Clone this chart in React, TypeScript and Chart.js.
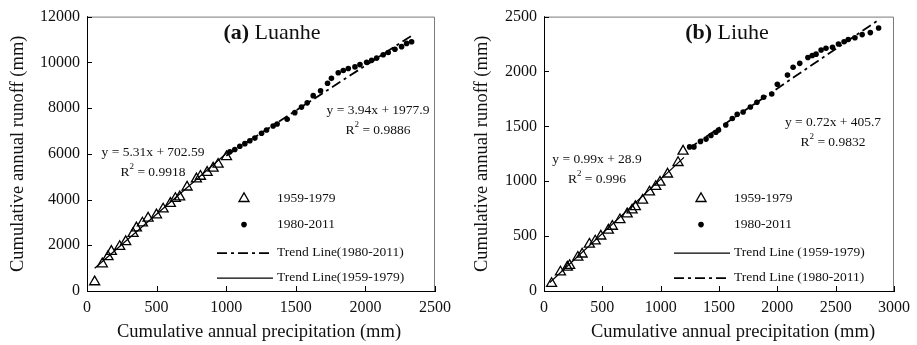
import React, { useEffect, useRef } from "react";
import { Chart, registerables } from "chart.js";

Chart.register(...registerables);

const FONT = "'Liberation Serif', 'Times New Roman', serif";
const INK = "#111111";

// ---------- (a) Luanhe ----------
const luanheEarlyX = [55, 110, 151, 175, 235, 278, 331, 355, 398, 439, 499, 547, 599, 635, 666, 719, 786, 815, 863, 906, 942, 1002];
const luanheEarlyY = [400, 1186, 1500, 1729, 1943, 2157, 2514, 2757, 2971, 3186, 3329, 3586, 3829, 4043, 4114, 4543, 4900, 5014, 5186, 5371, 5543, 5871];
const luanheLateX = [1026, 1062, 1098, 1134, 1170, 1206, 1254, 1290, 1337, 1366, 1438, 1493, 1541, 1582, 1625, 1678, 1728, 1756, 1805, 1841, 1877, 1925, 1961, 2009, 2045, 2081, 2128, 2164, 2212, 2260, 2296, 2332];
const luanheLateY = [6086, 6186, 6329, 6443, 6571, 6686, 6900, 7043, 7214, 7300, 7514, 7800, 8043, 8229, 8543, 8757, 9086, 9300, 9543, 9643, 9729, 9800, 9900, 10000, 10086, 10186, 10329, 10429, 10571, 10686, 10829, 10900];
const luanheTrendEarlyX = [55, 1010];
const luanheTrendEarlyY = [995, 6066];
const luanheTrendLateX = [1000, 2330];
const luanheTrendLateY = [5918, 11158];
const luanheXTicks = [0, 500, 1000, 1500, 2000, 2500];
const luanheYTicks = [0, 2000, 4000, 6000, 8000, 10000, 12000];

// ---------- (b) Liuhe ----------
const liuheEarlyX = [65, 141, 200, 220, 290, 327, 389, 439, 487, 552, 586, 651, 713, 755, 783, 845, 904, 958, 994, 1059, 1149, 1192];
const liuheEarlyY = [68, 173, 217, 232, 307, 336, 426, 455, 500, 554, 589, 649, 702, 738, 768, 827, 902, 952, 991, 1065, 1170, 1274];
const liuheLateX = [1248, 1285, 1341, 1389, 1431, 1473, 1496, 1558, 1614, 1656, 1707, 1769, 1825, 1882, 1952, 2000, 2087, 2135, 2192, 2262, 2299, 2332, 2375, 2417, 2473, 2524, 2572, 2608, 2665, 2727, 2797, 2868];
const liuheLateY = [1313, 1313, 1363, 1384, 1417, 1446, 1467, 1512, 1571, 1610, 1631, 1676, 1720, 1765, 1795, 1884, 1967, 2039, 2074, 2128, 2146, 2158, 2196, 2211, 2220, 2250, 2271, 2292, 2307, 2336, 2354, 2396];
const liuheTrendEarlyX = [50, 1200];
const liuheTrendEarlyY = [78, 1217];
const liuheTrendLateX = [1240, 2880];
const liuheTrendLateY = [1298, 2479];
const liuheXTicks = [0, 500, 1000, 1500, 2000, 2500, 3000];
const liuheYTicks = [0, 500, 1000, 1500, 2000, 2500];

const DASH_DOT = [10, 4, 3, 4];

type Eq = { eq: string; r2: string; cx: number; cy: number };
type PanelProps = {
  left: number;
  width: number;
  letter: string;
  name: string;
  titleCx: number;
  earlyX: number[];
  earlyY: number[];
  lateX: number[];
  lateY: number[];
  trendEarlyX: number[];
  trendEarlyY: number[];
  trendLateX: number[];
  trendLateY: number[];
  xTicks: number[];
  yTicks: number[];
  yWidth: number;
  padRight: number;
  eqs: Eq[];
  legendOrder: string[];
  legendLabels: Record<string, string>;
  yTitleX: number;
  xTitleCx: number;
};

function zip(xs: number[], ys: number[]) {
  return xs.map((x, i) => ({ x, y: ys[i] }));
}

function Panel(p: PanelProps) {
  const ref = useRef<HTMLCanvasElement>(null);
  useEffect(() => {
    const canvas = ref.current;
    if (!canvas) return;

    const overlay = {
      id: "overlay",
      afterDraw(chart: any) {
        const ctx = chart.ctx as CanvasRenderingContext2D;
        const a = chart.chartArea;
        const xs = chart.scales.x;
        const ys = chart.scales.y;
        ctx.save();
        // gray box top/right
        ctx.strokeStyle = "#7a7a7a";
        ctx.lineWidth = 1;
        ctx.beginPath();
        ctx.moveTo(a.left, a.top + 0.5);
        ctx.lineTo(a.right - 0.5, a.top + 0.5);
        ctx.lineTo(a.right - 0.5, a.bottom);
        ctx.stroke();
        // inner ticks
        ctx.strokeStyle = "#000";
        ctx.beginPath();
        for (const v of p.xTicks) {
          const px = Math.round(xs.getPixelForValue(v)) + 0.5;
          ctx.moveTo(px, a.bottom);
          ctx.lineTo(px, a.bottom - 5);
        }
        for (const v of p.yTicks) {
          const py = Math.round(ys.getPixelForValue(v)) + 0.5;
          ctx.moveTo(a.left, py);
          ctx.lineTo(a.left + 5, py);
        }
        ctx.stroke();

        ctx.fillStyle = INK;
        ctx.textBaseline = "middle";
        // panel title
        ctx.font = `bold 22px ${FONT}`;
        const t1 = `(${p.letter})`;
        const w1 = ctx.measureText(t1).width;
        ctx.font = `22px ${FONT}`;
        const t2 = ` ${p.name}`;
        const w2 = ctx.measureText(t2).width;
        const tx = a.left + p.titleCx - (w1 + w2) / 2;
        const ty = a.top + 17;
        ctx.textAlign = "left";
        ctx.font = `bold 22px ${FONT}`;
        ctx.fillText(t1, tx, ty);
        ctx.font = `22px ${FONT}`;
        ctx.fillText(t2, tx + w1, ty);

        // equations
        for (const e of p.eqs) {
          ctx.font = `13.5px ${FONT}`;
          ctx.textAlign = "center";
          ctx.fillText(e.eq, a.left + e.cx, a.top + e.cy);
          const pre = "R";
          const post = " = " + e.r2;
          const wPre = ctx.measureText(pre).width;
          const wPost = ctx.measureText(post).width;
          ctx.font = `9px ${FONT}`;
          const wSup = ctx.measureText("2").width;
          const total = wPre + wSup + wPost;
          const x0 = a.left + e.cx - total / 2;
          const y0 = a.top + e.cy + 20;
          ctx.textAlign = "left";
          ctx.font = `13.5px ${FONT}`;
          ctx.fillText(pre, x0, y0);
          ctx.font = `9px ${FONT}`;
          ctx.fillText("2", x0 + wPre, y0 - 6);
          ctx.font = `13.5px ${FONT}`;
          ctx.fillText(post, x0 + wPre + wSup, y0);
        }

        // legend
        const rows = [182, 208, 236, 261];
        const markX = a.left + 157;
        const lineX0 = a.left + 130;
        const lineX1 = a.left + 186;
        const textX = a.left + 190;
        p.legendOrder.forEach((key, i) => {
          const y = a.top + rows[i];
          ctx.strokeStyle = "#000";
          ctx.fillStyle = "#000";
          if (key === "tri") {
            const r = 5.8;
            ctx.lineWidth = 1.3;
            ctx.setLineDash([]);
            ctx.beginPath();
            ctx.moveTo(markX, y - r);
            ctx.lineTo(markX + 0.866 * r, y + 0.5 * r);
            ctx.lineTo(markX - 0.866 * r, y + 0.5 * r);
            ctx.closePath();
            ctx.stroke();
          } else if (key === "dot") {
            ctx.beginPath();
            ctx.arc(markX, y, 2.8, 0, Math.PI * 2);
            ctx.fill();
          } else {
            ctx.lineWidth = key === "late" ? 1.8 : 1.2;
            ctx.setLineDash(key === "late" ? DASH_DOT : []);
            ctx.beginPath();
            ctx.moveTo(lineX0, y + 0.5);
            ctx.lineTo(lineX1, y + 0.5);
            ctx.stroke();
            ctx.setLineDash([]);
          }
          ctx.fillStyle = INK;
          ctx.font = `13.5px ${FONT}`;
          ctx.textAlign = "left";
          ctx.fillText(p.legendLabels[key], textX, y);
        });

        // axis titles
        ctx.textAlign = "center";
        ctx.fillStyle = INK;
        ctx.font = `18.5px ${FONT}`;
        ctx.fillText("Cumulative annual precipitation (mm)", p.xTitleCx, 332);
        ctx.save();
        ctx.translate(p.yTitleX, (a.top + a.bottom) / 2);
        ctx.rotate(-Math.PI / 2);
        ctx.fillText("Cumulative annual runoff (mm)", 0, 0);
        ctx.restore();
        ctx.restore();
      },
    };

    const tickFont = { family: FONT, size: 16 };
    const fmt = (v: any) => String(v);
    const chart = new Chart(canvas, {
      type: "scatter",
      data: {
        datasets: [
          {
            label: p.legendLabels.tri,
            data: zip(p.earlyX, p.earlyY),
            pointStyle: "triangle",
            pointRadius: 5.8,
            borderColor: "#000",
            backgroundColor: "rgba(255,255,255,0)",
            borderWidth: 1.3,
            showLine: false,
          },
          {
            label: p.legendLabels.dot,
            data: zip(p.lateX, p.lateY),
            pointStyle: "circle",
            pointRadius: 2.8,
            borderWidth: 0,
            backgroundColor: "#000",
            borderColor: "#000",
            showLine: false,
          },
          {
            label: p.legendLabels.early,
            data: zip(p.trendEarlyX, p.trendEarlyY),
            showLine: true,
            pointRadius: 0,
            borderColor: "#000",
            borderWidth: 1.2,
          },
          {
            label: p.legendLabels.late,
            data: zip(p.trendLateX, p.trendLateY),
            showLine: true,
            pointRadius: 0,
            borderColor: "#000",
            borderWidth: 1.8,
            borderDash: DASH_DOT,
          },
        ],
      },
      options: {
        responsive: false,
        animation: false,
        events: [],
        layout: { padding: { left: 0, top: 11, right: p.padRight, bottom: 0 } },
        plugins: { legend: { display: false }, tooltip: { enabled: false } },
        scales: {
          x: {
            type: "linear",
            min: p.xTicks[0],
            max: p.xTicks[p.xTicks.length - 1],
            afterBuildTicks: (s: any) => {
              s.ticks = p.xTicks.map((v) => ({ value: v }));
            },
            afterFit: (s: any) => {
              s.height = 54;
            },
            grid: { display: true, drawOnChartArea: false, drawTicks: false },
            border: { display: true, color: "#000", width: 1 },
            ticks: { font: tickFont, color: INK, padding: 7, maxRotation: 0, autoSkip: false, callback: fmt },
          },
          y: {
            type: "linear",
            min: p.yTicks[0],
            max: p.yTicks[p.yTicks.length - 1],
            afterBuildTicks: (s: any) => {
              s.ticks = p.yTicks.map((v) => ({ value: v }));
            },
            afterFit: (s: any) => {
              s.width = p.yWidth;
            },
            grid: { display: true, drawOnChartArea: false, drawTicks: false },
            border: { display: true, color: "#000", width: 1 },
            ticks: { font: tickFont, color: INK, padding: 7, autoSkip: false, callback: fmt },
          },
        },
      },
      plugins: [overlay],
    } as any);
    return () => chart.destroy();
  }, []);
  return (
    <canvas
      ref={ref}
      width={p.width}
      height={345}
      style={{ position: "absolute", left: p.left, top: 0, width: p.width, height: 345 }}
    />
  );
}

export default function App() {
  return (
    <div style={{ position: "fixed", left: 0, top: 0, width: 917, height: 345, background: "#fff", overflow: "hidden" }}>
      <Panel
        left={0}
        width={458}
        letter="a"
        name="Luanhe"
        titleCx={185}
        earlyX={luanheEarlyX}
        earlyY={luanheEarlyY}
        lateX={luanheLateX}
        lateY={luanheLateY}
        trendEarlyX={luanheTrendEarlyX}
        trendEarlyY={luanheTrendEarlyY}
        trendLateX={luanheTrendLateX}
        trendLateY={luanheTrendLateY}
        xTicks={luanheXTicks}
        yTicks={luanheYTicks}
        yWidth={87}
        padRight={23}
        eqs={[
          { eq: "y = 5.31x + 702.59", r2: "0.9918", cx: 66, cy: 136 },
          { eq: "y = 3.94x + 1977.9", r2: "0.9886", cx: 291, cy: 94 },
        ]}
        legendOrder={["tri", "dot", "late", "early"]}
        legendLabels={{
          tri: "1959-1979",
          dot: "1980-2011",
          late: "Trend Line(1980-2011)",
          early: "Trend Line(1959-1979)",
        }}
        yTitleX={18}
        xTitleCx={259}
      />
      <Panel
        left={458}
        width={459}
        letter="b"
        name="Liuhe"
        titleCx={183}
        earlyX={liuheEarlyX}
        earlyY={liuheEarlyY}
        lateX={liuheLateX}
        lateY={liuheLateY}
        trendEarlyX={liuheTrendEarlyX}
        trendEarlyY={liuheTrendEarlyY}
        trendLateX={liuheTrendLateX}
        trendLateY={liuheTrendLateY}
        xTicks={liuheXTicks}
        yTicks={liuheYTicks}
        yWidth={86}
        padRight={18}
        eqs={[
          { eq: "y = 0.99x + 28.9", r2: "0.996", cx: 53, cy: 143 },
          { eq: "y = 0.72x + 405.7", r2: "0.9832", cx: 289, cy: 106 },
        ]}
        legendOrder={["tri", "dot", "early", "late"]}
        legendLabels={{
          tri: "1959-1979",
          dot: "1980-2011",
          early: "Trend Line (1959-1979)",
          late: "Trend Line (1980-2011)",
        }}
        yTitleX={24}
        xTitleCx={275}
      />
    </div>
  );
}
